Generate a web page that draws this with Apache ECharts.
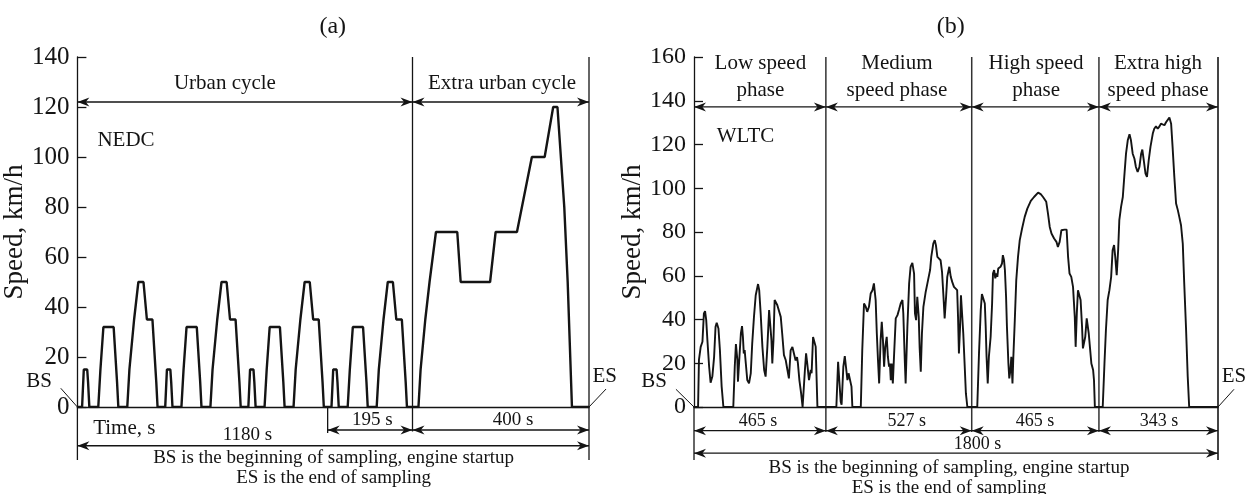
<!DOCTYPE html>
<html><head><meta charset="utf-8">
<script src="https://cdn.jsdelivr.net/npm/echarts@6/dist/echarts.min.js"></script>
<style>html,body{margin:0;padding:0;background:#fff}#c{width:1248px;height:494px}</style>
</head><body><div id="c"></div>
<script>
// ---------- data: panel (a) NEDC, [time s, speed km/h] ----------
const nedcUrban = [
 [0,0],[11,0],[15,15],[23,15],[25,10],[28,0],[49,0],[54,15],[56,15],[61,32],[85,32],[93,10],[96,0],[117,0],[122,15],[124,15],[133,35],[135,35],[143,50],[155,50],[163,35],[176,35],[185,10],[188,0],
 [195,0],[206,0],[210,15],[218,15],[220,10],[223,0],[244,0],[249,15],[251,15],[256,32],[280,32],[288,10],[291,0],[312,0],[317,15],[319,15],[328,35],[330,35],[338,50],[350,50],[358,35],[371,35],[380,10],[383,0],
 [390,0],[401,0],[405,15],[413,15],[415,10],[418,0],[439,0],[444,15],[446,15],[451,32],[475,32],[483,10],[486,0],[507,0],[512,15],[514,15],[523,35],[525,35],[533,50],[545,50],[553,35],[566,35],[575,10],[578,0],
 [585,0],[596,0],[600,15],[608,15],[610,10],[613,0],[634,0],[639,15],[641,15],[646,32],[670,32],[678,10],[681,0],[702,0],[707,15],[709,15],[718,35],[720,35],[728,50],[740,50],[748,35],[761,35],[770,10],[773,0]
];
const nedcExtraUrban = [
 [780,0],[800,0],[805,15],[807,15],[816,35],[818,35],[826,50],[828,50],[841,70],[891,70],[899,50],[968,50],[981,70],[1031,70],[1066,100],[1096,100],[1116,120],[1126,120],[1142,80],[1150,50],[1160,0],[1200,0]
];
// ---------- data: panel (b) WLTC, [time s, speed km/h] ----------
const wltcLow = [
 [0,0],[14,0],[17,21.5],[23,27.5],[29,29.8],[34,42.8],[38,43.8],[42,39.7],[46,30.6],[52,18.4],[57,11.1],[63,13.9],[69,22.8],[74,36.7],[78,38.5],[84,35.9],[89,26],[95,9.3],[101,0],[135,0],[140,18.4],[144,28.8],[149,21.5],[151,11.6],[156,22.8],[161,33.6],[165,37],[168,32.1],[171,24.5],[174,26],[178,19.9],[183,12.3],[189,10.8],[195,15.4],[200,29.1],[206,41.2],[212,51.1],[220,56.2],[224,53.4],[229,42.8],[235,27.5],[241,16.9],[246,13.9],[252,27.5],[258,44.3],[261,45],[266,30.6],[269,19.9],[273,30.6],[277,48.9],[281,48.1],[286,46.6],[292,46.1],[298,41.2],[303,33.5],[309,23.7],[315,21.5],[321,16.9],[326,13.1],[332,25.9],[338,27.4],[344,26.6],[349,21.3],[354,22.8],[357,19.9],[362,12.3],[368,6.2],[373,0],[379,0],[381,16.9],[385,24.5],[389,19.9],[395,12.3],[401,16.9],[404,15.4],[409,32],[412,32.9],[418,27.6],[424,0],[453,0]
];
const wltcMedium = [
 [489,0],[495,20.7],[499,12.3],[504,2.4],[507,1],[513,18.4],[518,23.3],[522,18.4],[527,12.3],[531,15.4],[536,15.7],[541,9.3],[544,0],[573,0],[578,26],[584,47.3],[590,45.8],[595,43.5],[601,45.8],[607,51.9],[613,53.4],[618,56.5],[624,48.9],[628,33.6],[632,21.5],[636,10.8],[641,30.6],[645,39],[649,30.6],[653,18.4],[657,27.5],[662,32.1],[666,23],[670,18.4],[673,19.9],[676,12.3],[679,19.9],[683,10.8],[687,23],[693,40.5],[699,42],[704,44.3],[710,47.3],[716,48.9],[719,42.8],[724,21.5],[727,10.8],[733,36.7],[739,56.5],[744,64.1],[750,65.9],[756,61],[759,42.8],[763,39.7],[767,50.4],[772,41.2],[775,27.5],[779,16.1],[783,33.6],[788,45.8],[796,52.7],[804,58],[811,62.6],[815,68.6],[822,74.7],[827,76.3],[831,74],[836,68.6],[842,67.9],[847,67.1],[852,61.8],[857,50.4],[861,40.5],[866,50.4],[870,59.5],[877,64.1],[882,59.5],[887,57.2],[893,54.9],[899,55.3],[904,53.4],[907,41.2],[910,24.5],[914,36.7],[917,51.1],[921,50.4],[925,33.6],[930,18.4],[934,6.2],[939,0],[954,0]
];
const wltcHigh = [
 [973,0],[979,24.5],[985,44.3],[989,51.6],[994,51.9],[999,47.3],[1002,36.7],[1005,23],[1009,10.8],[1013,23],[1019,32.1],[1024,47.3],[1027,61],[1031,62.6],[1035,58.8],[1039,61],[1042,59.5],[1045,63.3],[1049,62.6],[1053,64.1],[1058,65.6],[1061,69.4],[1065,67.1],[1068,62.6],[1072,50.4],[1075,36.7],[1080,19.9],[1083,13.1],[1087,16.9],[1090,23],[1094,10.8],[1097,23],[1102,39.7],[1107,58],[1113,68.6],[1119,76.3],[1127,81.6],[1136,86.9],[1145,90.7],[1157,94.2],[1168,96],[1182,98],[1191,97.3],[1199,96],[1210,93.8],[1216,88.4],[1222,82.3],[1228,79.3],[1237,77],[1245,75.5],[1250,73.2],[1256,75.5],[1262,80.8],[1268,80.1],[1273,81.1],[1280,81.1],[1285,68.6],[1290,61],[1296,59.5],[1302,54.9],[1308,41.2],[1311,27.5],[1315,42.8],[1319,53.4],[1324,54.2],[1328,48.9],[1333,36.7],[1336,26.8],[1340,26],[1344,32.1],[1349,40.5],[1353,41.2],[1356,33.6],[1360,27.5],[1365,19.9],[1371,16.9],[1374,12.3],[1377,0],[1391,0]
];
const wltcExtraHigh = [
 [1404,0],[1410,19.9],[1415,35.2],[1421,48.9],[1427,53.4],[1433,59.5],[1438,71.7],[1443,74],[1447,68.6],[1452,60.3],[1457,71.7],[1461,85.4],[1467,91.5],[1473,96],[1478,105.2],[1484,115.8],[1490,121.9],[1496,124.7],[1501,121.9],[1507,115.8],[1513,113.5],[1518,109.7],[1524,107.5],[1530,109.7],[1536,115.8],[1540,117.7],[1545,112.8],[1551,106.7],[1556,105.2],[1562,112.8],[1568,118.9],[1576,125],[1581,127.2],[1587,128.3],[1593,127.2],[1599,128.3],[1604,129.5],[1610,129.5],[1616,128.8],[1622,130.3],[1627,131],[1633,132.3],[1639,129.5],[1644,118.9],[1650,105.2],[1656,93],[1662,90],[1667,86.9],[1673,83.1],[1679,74.7],[1684,56.5],[1690,36.7],[1696,13.9],[1701,0],[1800,0]
];
// ---------- axes / labels ----------
const nedcTimeMax = 1200, nedcSpeedMax = 140;
const wltcTimeMax = 1800, wltcSpeedMax = 160;
const speedTickStep = 20;
const nedcPhaseBounds = [0, 786, 1200];
const nedcPhaseNames = ['Urban cycle', 'Extra urban cycle'];
const nedcCycleStart = 587;
const nedcDurations = ['195 s', '400 s', '1180 s'];
const wltcPhaseBounds = [0, 453, 954, 1391, 1800];
const wltcPhaseNames = [['Low speed','phase'],['Medium','speed phase'],['High speed','phase'],['Extra high','speed phase']];
const wltcDurations = ['465 s', '527 s', '465 s', '343 s'];
const wltcTotal = '1800 s';
const noteBS = 'BS is the beginning of sampling, engine startup';
const noteES = 'ES is the end of sampling';

const FONT = "'Liberation Serif','DejaVu Serif','Times New Roman',serif";
const INK = '#141414';

function yAxisCfg(max, gap, size){
  return {type:'value', min:0, max:max, interval:speedTickStep, name:'Speed, km/h', nameLocation:'middle', nameGap:gap,
    nameTextStyle:{fontFamily:FONT, fontSize:27, color:INK},
    axisLine:{show:true, lineStyle:{color:INK, width:1.3}},
    axisTick:{show:true, inside:true, length:9, lineStyle:{color:INK, width:1.3}},
    axisLabel:{fontFamily:FONT, fontSize:size, color:INK, margin:8},
    splitLine:{show:false}};
}
function xAxisCfg(max, gi){
  return {type:'value', gridIndex:gi, min:0, max:max, axisLine:{show:true, onZero:false, lineStyle:{color:INK, width:1.3}},
    axisTick:{show:false}, axisLabel:{show:false}, splitLine:{show:false}};
}
const ya = yAxisCfg(nedcSpeedMax, 46, 25); ya.gridIndex = 0;
const yb = yAxisCfg(wltcSpeedMax, 44, 24); yb.gridIndex = 1;

const chart = echarts.init(document.getElementById('c'));
chart.setOption({
  animation:false, backgroundColor:'#fff',
  grid:[{left:76, top:57, width:513, height:350}, {left:694, top:57, width:524, height:350}],
  xAxis:[xAxisCfg(nedcTimeMax,0), xAxisCfg(wltcTimeMax,1)],
  yAxis:[ya, yb],
  series:[
    {type:'line', xAxisIndex:0, yAxisIndex:0, data:nedcUrban.concat(nedcExtraUrban), symbol:'none', silent:true,
     lineStyle:{color:INK, width:2.4}},
    {type:'line', xAxisIndex:1, yAxisIndex:1, data:wltcLow.concat(wltcMedium, wltcHigh, wltcExtraHigh), symbol:'none', silent:true,
     lineStyle:{color:INK, width:1.9}}
  ]
});

function P(g,x,y){ return chart.convertToPixel({gridIndex:g},[x,y]); }
const els = [];
function seg(g,x1,y1,x2,y2,w,c){ const a=P(g,x1,y1), b=P(g,x2,y2);
  els.push({type:'line', silent:true, shape:{x1:a[0],y1:a[1],x2:b[0],y2:b[1]}, style:{stroke:c||INK, lineWidth:w||1.3}}); }
function head(x,y,dir){ const L=12, W=9;
  els.push({type:'polygon', silent:true, shape:{points:[[x,y],[x+dir*L,y-W/2],[x+dir*L*0.7,y],[x+dir*L,y+W/2]]}, style:{fill:INK}}); }
function arrow(g,x1,x2,y){ const a=P(g,x1,y), b=P(g,x2,y);
  els.push({type:'line', silent:true, shape:{x1:a[0],y1:a[1],x2:b[0],y2:b[1]}, style:{stroke:INK, lineWidth:1.4}});
  head(a[0],a[1],1); head(b[0],b[1],-1); }
function txt(g,x,y,s,size,align){ const a=P(g,x,y);
  els.push({type:'text', silent:true, x:a[0], y:a[1], style:{text:s, fontFamily:FONT, fontSize:size, fill:INK, align:align||'center', verticalAlign:'middle'}}); }

// ----- panel (a) annotations -----
seg(0,0,0,0,-21.2);
seg(0,nedcTimeMax,nedcSpeedMax,nedcTimeMax,-21.2);
seg(0,nedcPhaseBounds[1],nedcSpeedMax,nedcPhaseBounds[1],-9.8);
seg(0,nedcCycleStart,0,nedcCycleStart,-10.4);
arrow(0,nedcPhaseBounds[0],nedcPhaseBounds[1],122);
arrow(0,nedcPhaseBounds[1],nedcPhaseBounds[2],122);
arrow(0,nedcCycleStart,nedcPhaseBounds[1],-9.2);
arrow(0,nedcPhaseBounds[1],nedcPhaseBounds[2],-9.2);
arrow(0,0,nedcTimeMax,-15.5);
txt(0,346,129.5,nedcPhaseNames[0],21);
txt(0,996,129.5,nedcPhaseNames[1],21);
txt(0,47,106.7,'NEDC',21,'left');
txt(0,37,-8.4,'Time, s',21,'left');
txt(0,692,-5.2,nedcDurations[0],19);
txt(0,1022,-5.2,nedcDurations[1],19);
txt(0,399,-11.2,nedcDurations[2],19);
txt(0,601,-20.5,noteBS,19);
txt(0,601,-28.5,noteES,19);
txt(0,599,152,'(a)',24);
txt(0,-90,10.1,'BS',21);
seg(0,-39,7.5,0,0,1);
txt(0,1237,12.1,'ES',21);
seg(0,nedcTimeMax,0,1240,7.2,1);

// ----- panel (b) annotations -----
seg(1,0,0,0,-24.2);
seg(1,wltcTimeMax,wltcSpeedMax,wltcTimeMax,-24.2,2,'#444');
for (let i=1;i<wltcPhaseBounds.length-1;i++) seg(1,wltcPhaseBounds[i],wltcSpeedMax,wltcPhaseBounds[i],-11.4,1.5,'#333');
const nameX = [228, 697, 1175, 1594];
const durX = [220, 731, 1171, 1597];
for (let i=0;i<wltcPhaseBounds.length-1;i++){
  arrow(1,wltcPhaseBounds[i],wltcPhaseBounds[i+1],137.2);
  arrow(1,wltcPhaseBounds[i],wltcPhaseBounds[i+1],-10.8);
  txt(1,nameX[i],157,wltcPhaseNames[i][0],21);
  txt(1,nameX[i],144.8,wltcPhaseNames[i][1],21);
  txt(1,durX[i],-6.7,wltcDurations[i],18);
}
arrow(1,0,wltcTimeMax,-21.1);
txt(1,974,-16.9,wltcTotal,18);
txt(1,78,123.5,'WLTC',21,'left');
txt(1,876,-27.9,noteBS,19);
txt(1,876,-37,noteES,19);
txt(1,882,173.7,'(b)',24);
txt(1,-137,11.6,'BS',21);
seg(1,-62,8.1,0,0,1);
txt(1,1855,13.8,'ES',21);
seg(1,wltcTimeMax,0,1855,8.1,1);

chart.setOption({graphic:els});
</script></body></html>
